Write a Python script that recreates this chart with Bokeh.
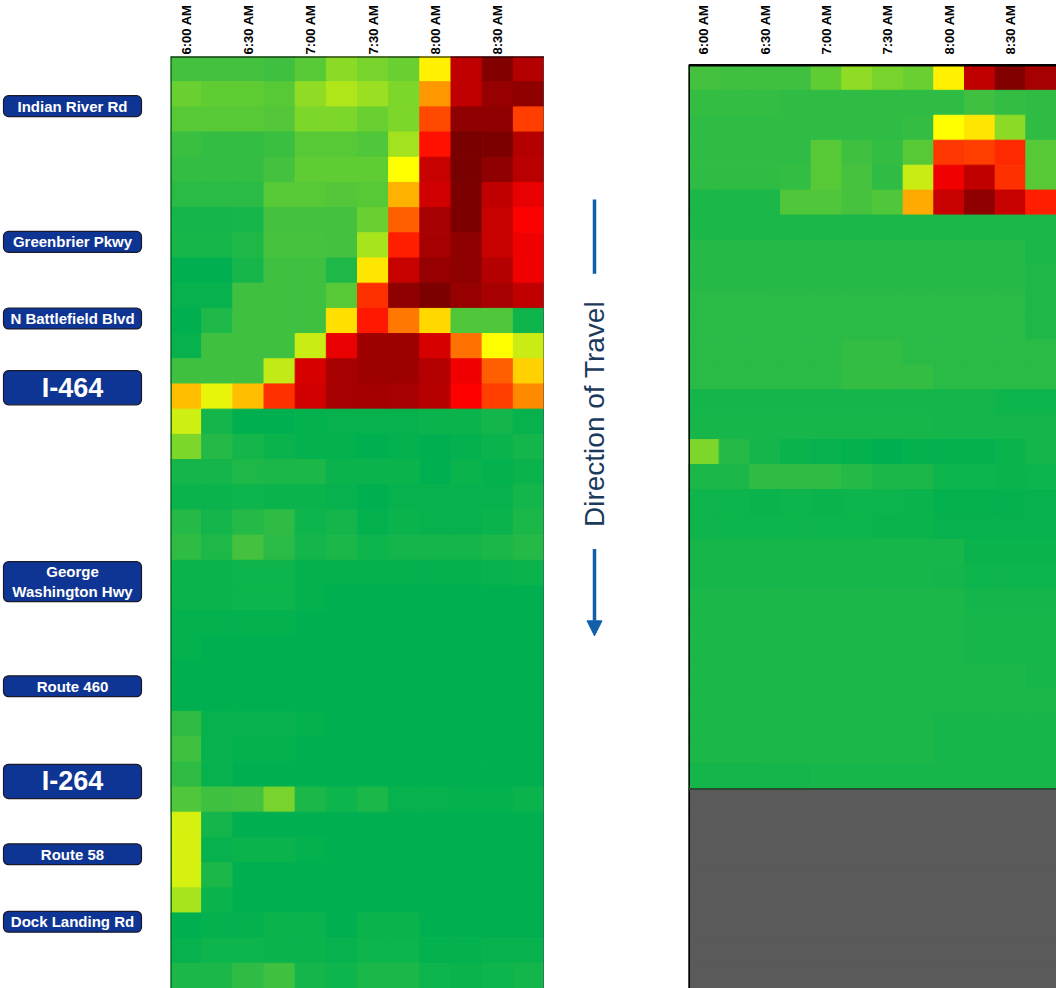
import math
import numpy as np
from bokeh.plotting import figure
from bokeh.models import (ColumnDataSource, LinearColorMapper, Range1d, FixedTicker,
                          Span, Arrow, NormalHead)
from bokeh.layouts import row
from bokeh.core.properties import value
from bokeh.embed import file_html
from bokeh.resources import INLINE

# ---------------- data ----------------
times = ["6:00 AM", "6:15 AM", "6:30 AM", "6:45 AM", "7:00 AM", "7:15 AM",
         "7:30 AM", "7:45 AM", "8:00 AM", "8:15 AM", "8:30 AM", "8:45 AM"]

interchanges = ["Indian River Rd", "Greenbrier Pkwy", "N Battlefield Blvd", "I-464",
                "George\nWashington Hwy", "Route 460", "I-264", "Route 58", "Dock Landing Rd"]
interchange_rows = [1.97, 7.36, 10.4, 13.15, 20.85, 25.0, 28.78, 31.67, 34.35]
interchange_is_interstate = [False, False, False, True, False, False, True, False, False]

NA = np.nan

# average speed (mph) per segment (rows, in direction of travel) and 15-min period (columns)
speed_left = [
    [57.5, 57.5, 57.5, 58, 55, 50.5, 52, 53, 41, 19, 10, 17],
    [53, 54, 54, 55, 50, 47.5, 49, 51.5, 35.5, 19, 13, 12],
    [55, 55, 55, 55.5, 51.5, 51.5, 53, 51.5, 30.5, 12, 12, 30],
    [58.5, 59, 59, 58.5, 55, 55, 56, 48.5, 27, 8, 9, 17],
    [59, 59, 59, 57.5, 54, 54, 54, 42, 20, 8, 12, 18],
    [60, 60, 60, 55, 55, 55.5, 55, 37, 21, 9, 19, 24],
    [62.5, 62.5, 62, 57.5, 57.5, 57.5, 53, 32, 15, 9, 20, 26],
    [62, 62, 61, 57, 57, 57.5, 48, 28, 15, 12, 20, 24.5],
    [65, 65, 62, 58, 58, 61, 40.5, 20, 13, 12, 17, 24.5],
    [64, 64, 58, 58, 58, 55, 29, 12, 9, 13, 15, 19],
    [65, 61, 58, 58, 58, 40, 27.5, 33.5, 39.5, 56, 56, 63],
    [64, 58, 58, 58, 46, 24, 14, 14, 22, 33, 42, 46],
    [58, 58, 58, 46.5, 22, 15, 14, 14, 17, 24.5, 32, 39],
    [38, 44, 38, 29, 21, 15, 14.5, 15, 17.5, 26, 30, 34.5],
    [45.5, 62.5, 65, 65, 64.5, 64, 64, 64, 63.5, 63.5, 62.5, 64],
    [51.5, 60.5, 62.5, 63.5, 64.5, 64.5, 65, 64.5, 65, 64.5, 63.5, 62.5],
    [62.5, 62.5, 61, 61.5, 61.5, 63.5, 63.5, 63.5, 65, 63.5, 64.5, 63.5],
    [63.5, 63.5, 63, 63.5, 63.5, 64, 65, 64, 64, 64, 64, 62.5],
    [60.5, 62.5, 60.5, 59.5, 63, 62.5, 64.5, 63.5, 64, 64, 63.5, 61.5],
    [59.5, 61, 57.5, 60, 62.5, 61.5, 63, 62.5, 62.5, 62.5, 61.5, 60.5],
    [63.5, 63.5, 63, 63, 64.5, 64.5, 64.5, 64.5, 64.5, 64.5, 64, 63.5],
    [63.5, 63.5, 63, 63, 64.5, 65, 65, 65, 65, 65, 65, 65],
    [64.5, 64.5, 64.5, 64.5, 65, 65, 65, 65, 65, 65, 65, 65],
    [64.5, 65, 65, 65, 65, 65, 65, 65, 65, 65, 65, 65],
    [65, 65, 65, 65, 65, 65, 65, 65, 65, 65, 65, 65],
    [65, 65, 65, 65, 65, 65, 65, 65, 65, 65, 65, 65],
    [59.5, 64, 64, 64, 64.5, 65, 65, 65, 65, 65, 65, 65],
    [58, 64, 64.5, 64.5, 65, 65, 65, 65, 65, 65, 65, 65],
    [59.5, 64, 65, 65, 65, 65, 65, 65, 65, 65, 65, 65],
    [56, 58, 57.5, 52, 61.5, 63, 61.5, 64, 64, 64.5, 64.5, 63.5],
    [45, 62.5, 65, 65, 65, 65, 65, 65, 65, 65, 65, 65],
    [45, 64, 63.5, 63.5, 64.5, 65, 65, 65, 65, 65, 65, 65],
    [45, 61.5, 65, 65, 65, 65, 65, 65, 65, 65, 65, 65],
    [48, 63.5, 65, 65, 65, 65, 65, 65, 65, 65, 65, 65],
    [65, 64.5, 64.5, 63.5, 63.5, 65, 63.5, 63.5, 65, 65, 65, 65],
    [64, 63, 63, 63.5, 63.5, 64, 63, 63, 64.5, 64.5, 64, 64],
    [61.5, 61.5, 59.5, 58, 62.5, 63, 61.5, 61.5, 63, 63.5, 63, 62.5],
]

speed_right = [
    [57.5, 58, 58, 58, 54, 50, 52, 53, 41, 19, 10, 15],
    [59, 59, 59, 59.5, 59.5, 59.5, 59.5, 59.5, 59.5, 58, 59, 59.5],
    [59.5, 59.5, 59.5, 59.5, 59.5, 59.5, 59.5, 59, 42, 40.5, 50.5, 59.5],
    [59.5, 59.5, 59.5, 59.5, 55, 58, 59, 55, 29.5, 30, 28.5, 55],
    [59.5, 59.5, 59.5, 59, 55, 57, 59.5, 46, 24.5, 19, 29, 55],
    [61.5, 61.5, 61.5, 56, 56, 57, 56, 36.5, 20, 12, 20, 28],
    [61.5, 61.5, 61.5, 61.5, 61.5, 61.5, 61.5, 61.5, 61.5, 61.5, 61.5, 61.5],
    [60.5, 60.5, 60.5, 60.5, 60.5, 60.5, 60.5, 60.5, 60.5, 60.5, 60.5, 61.5],
    [60.5, 60.5, 60.5, 60.5, 60.5, 60.5, 60.5, 60.5, 60.5, 60.5, 60.5, 61],
    [60, 60, 60, 60, 60, 60, 60, 60, 60, 60, 60, 61],
    [60, 60, 60, 60, 60, 60, 60, 60, 60, 60, 60, 61],
    [60, 60, 60, 60, 60, 59, 59, 60, 60, 60, 60, 60],
    [60, 60, 60, 60, 60, 59, 59, 59, 60, 60, 60, 60],
    [62.5, 62.5, 62.5, 62.5, 62.5, 62.5, 62.5, 62.5, 62.5, 62.5, 63, 63],
    [62, 62, 62, 62, 62, 62, 62, 62, 62.5, 62.5, 62.5, 62.5],
    [51.5, 60.5, 62.5, 63.5, 64, 64.5, 65, 64.5, 64.5, 64.5, 63.5, 62.5],
    [61.5, 61.5, 59.5, 59.5, 59.5, 60.5, 61.5, 61.5, 63, 63, 63.5, 63],
    [63, 63, 63.5, 63, 63.5, 63, 63, 63.5, 64.5, 64.5, 64.5, 64],
    [63, 63, 63, 63, 63, 63, 63.5, 63.5, 64, 64, 64, 64],
    [62, 62, 62, 62, 62, 62, 62, 62, 62, 63.5, 63.5, 63.5],
    [62, 62, 62, 62, 62, 62, 62, 62, 62.5, 63, 63, 63],
    [61.5, 61.5, 61.5, 61.5, 61.5, 61.5, 61.5, 61.5, 61.5, 62.5, 62.5, 62.5],
    [61.5, 61.5, 61.5, 61.5, 61.5, 61.5, 61.5, 61.5, 61.5, 62, 62, 62],
    [61.5, 61.5, 61.5, 61.5, 61.5, 61.5, 61.5, 61.5, 61.5, 62, 62, 62],
    [61.5, 61.5, 61.5, 61.5, 61.5, 61.5, 61.5, 61.5, 61.5, 61.5, 61.5, 62],
    [61.5, 61.5, 61.5, 61.5, 61.5, 61.5, 61.5, 61.5, 61.5, 61.5, 61.5, 61.5],
    [61.5, 61.5, 61.5, 61.5, 61.5, 61.5, 61.5, 61.5, 62, 62, 62, 62],
    [61.5, 61.5, 61.5, 61.5, 61.5, 61.5, 61.5, 61.5, 62, 62, 62, 62],
    [62.5, 62.5, 62.5, 62.5, 62, 62, 62, 62, 62, 62, 62, 62],
    [NA, NA, NA, NA, NA, NA, NA, NA, NA, NA, NA, NA],
    [NA, NA, NA, NA, NA, NA, NA, NA, NA, NA, NA, NA],
    [NA, NA, NA, NA, NA, NA, NA, NA, NA, NA, NA, NA],
    [NA, NA, NA, NA, NA, NA, NA, NA, NA, NA, NA, NA],
    [NA, NA, NA, NA, NA, NA, NA, NA, NA, NA, NA, NA],
    [NA, NA, NA, NA, NA, NA, NA, NA, NA, NA, NA, NA],
    [NA, NA, NA, NA, NA, NA, NA, NA, NA, NA, NA, NA],
    [NA, NA, NA, NA, NA, NA, NA, NA, NA, NA, NA, NA],
]

# ---------------- styling ----------------
FONT = "Liberation Sans"
H = 988
TOP = 56
W_LAB, W_LEFT, W_MID, W_RIGHT = 170, 374, 144, 368
RIGHT_TOP_PAD = 0.355   # blank band (in rows) above the right grid

color_stops = [(8, "#780000"), (12, "#900000"), (15, "#A80000"), (19, "#C00000"),
               (23, "#E00000"), (26, "#FF0000"), (28, "#FF2000"), (30, "#FF4000"),
               (34, "#FF8000"), (37, "#FFB000"), (40, "#FFE000"), (42, "#FFFF00"),
               (44, "#E8F40A"), (46, "#C8EC14"), (48, "#A8E41C"), (50, "#90DC24"),
               (52, "#78D42C"), (54, "#60CC34"), (56, "#50C63A"), (58, "#40C040"),
               (61, "#20B848"), (65, "#00B050")]


def _rgb(h):
    return tuple(int(h[i:i + 2], 16) for i in (1, 3, 5))


def build_palette(stops, n=256):
    lo, hi = stops[0][0], stops[-1][0]
    out = []
    for i in range(n):
        v = lo + (hi - lo) * i / (n - 1)
        for (a, ca), (b, cb) in zip(stops[:-1], stops[1:]):
            if a <= v <= b:
                t = (v - a) / (b - a) if b > a else 0
                r1, g1, b1 = _rgb(ca)
                r2, g2, b2 = _rgb(cb)
                out.append("#%02x%02x%02x" % (round(r1 + (r2 - r1) * t),
                                              round(g1 + (g2 - g1) * t),
                                              round(b1 + (b2 - b1) * t)))
                break
    return out


palette = build_palette(color_stops)
mapper = LinearColorMapper(palette=palette, low=color_stops[0][0], high=color_stops[-1][0],
                           nan_color="#5A5A5A")

n_rows = len(speed_left)
n_cols = len(times)


def grid_source(speeds):
    xs, ys, vs = [], [], []
    for r, vals in enumerate(speeds):
        for c, v in enumerate(vals):
            xs.append(c)
            ys.append(r + 0.5)
            vs.append(v)
    return ColumnDataSource(dict(x=xs, y=ys, speed=np.array(vs, dtype=float)))


def base(width, yr, xr, axis):
    p = figure(width=width, height=H, x_range=xr, y_range=yr,
               output_backend="svg", toolbar_location=None,
               x_axis_location=("above" if axis else None), y_axis_location=None,
               min_border_top=TOP, min_border_bottom=0, min_border_left=0,
               min_border_right=0, background_fill_color="white",
               border_fill_color="white")
    p.outline_line_color = None
    p.grid.visible = False
    return p


def heatmap(width, speeds, pad):
    yr = Range1d(n_rows, -pad)
    p = base(width, yr, Range1d(-0.5, n_cols - 0.5), True)
    src = grid_source(speeds)
    p.rect(x="x", y="y", width=1, height=1, source=src,
           fill_color={"field": "speed", "transform": mapper},
           line_color={"field": "speed", "transform": mapper}, line_width=1)
    ax = p.xaxis[0]
    ax.ticker = FixedTicker(ticks=list(range(0, n_cols, 2)))
    ax.major_label_overrides = {i: times[i] for i in range(0, n_cols, 2)}
    ax.major_label_orientation = math.pi / 2
    ax.major_label_text_font = FONT
    ax.major_label_text_font_style = "bold"
    ax.major_label_text_font_size = "13px"
    ax.major_label_text_color = "black"
    ax.major_label_standoff = 2
    ax.major_tick_line_color = None
    ax.major_tick_out = 0
    ax.major_tick_in = 0
    ax.minor_tick_line_color = None
    ax.axis_line_color = None
    return p, yr


# left heatmap
p_left, yr_left = heatmap(W_LEFT, speed_left, 0)
p_left.add_layout(Span(location=-0.5, dimension="height", line_color="#226E2E", line_width=3))
p_left.add_layout(Span(location=n_cols - 0.5, dimension="height", line_color="#4A4A4A", line_width=2))
p_left.add_layout(Span(location=0, dimension="width", line_color="black", line_width=2))

# right heatmap
p_right, yr_right = heatmap(W_RIGHT, speed_right, RIGHT_TOP_PAD)
p_right.segment(x0=[-0.5], y0=[0], x1=[-0.5], y1=[n_rows], line_color="black", line_width=3)
p_right.segment(x0=[-0.5], y0=[0], x1=[n_cols - 0.5], y1=[0], line_color="black", line_width=2.5)
first_missing = next(i for i, r in enumerate(speed_right) if all(np.isnan(v) for v in r))
p_right.add_layout(Span(location=first_missing, dimension="width", line_color="#2C4A33", line_width=2))

# interchange labels
p_lab = base(W_LAB, yr_left, Range1d(0, W_LAB), False)
box_h = []
for name, inter in zip(interchanges, interchange_is_interstate):
    if inter:
        box_h.append(1.36)
    elif "\n" in name:
        box_h.append(1.59)
    else:
        box_h.append(0.83)
lab_src = ColumnDataSource(dict(
    y=interchange_rows, name=interchanges,
    top=[r - h / 2 for r, h in zip(interchange_rows, box_h)],
    bottom=[r + h / 2 for r, h in zip(interchange_rows, box_h)],
))
p_lab.quad(left=3, right=141, top="top", bottom="bottom", source=lab_src,
           fill_color="#0E3593", line_color="#1A1A2A", line_width=1.2, border_radius=5)
small = [i for i, s in enumerate(interchange_is_interstate) if not s]
big = [i for i, s in enumerate(interchange_is_interstate) if s]
p_lab.text(x=[72] * len(small), y=[interchange_rows[i] for i in small],
           text=[interchanges[i] for i in small], text_align="center",
           text_baseline="middle", text_color="white", text_font=value(FONT),
           text_font_style="bold", text_font_size="15px", text_line_height=1.15)
p_lab.text(x=[72] * len(big), y=[interchange_rows[i] for i in big],
           text=[interchanges[i] for i in big], text_align="center",
           text_baseline="middle", text_color="white", text_font=value(FONT),
           text_font_style="bold", text_font_size="27px")

# direction of travel
p_mid = base(W_MID, yr_left, Range1d(0, W_MID), False)
arrow_color = "#0F5FAA"
p_mid.segment(x0=[50], y0=[5.68], x1=[50], y1=[8.62], line_width=3.5, line_color=arrow_color)
p_mid.add_layout(Arrow(end=NormalHead(size=15, fill_color=arrow_color, line_color=arrow_color),
                       x_start=50, y_start=19.55, x_end=50, y_end=23.0,
                       line_width=3.5, line_color=arrow_color))
p_mid.text(x=[49.5], y=[14.19], text=["Direction of Travel"], angle=math.pi / 2,
           text_align="center", text_baseline="middle", text_font=value(FONT),
           text_font_size="28px", text_color="#1B3A5C")

layout = row(p_lab, p_left, p_mid, p_right)
open("out.html", "w").write(file_html(layout, INLINE))
